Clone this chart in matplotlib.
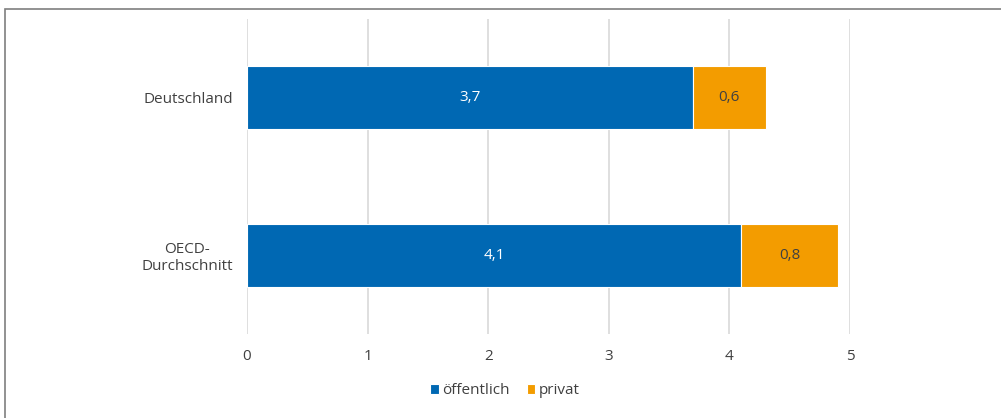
import matplotlib
matplotlib.use("Agg")
import matplotlib.pyplot as plt
from matplotlib.patches import Rectangle

categories = ["Deutschland", "OECD-\nDurchschnitt"]
oeffentlich = [3.7, 4.1]
privat = [0.6, 0.8]
series_names = ["öffentlich", "privat"]
xticks = [0, 1, 2, 3, 4, 5]

blue = "#0068B3"
orange = "#F39C00"
text_gray = "#404040"
grid_gray = "#D9D9D9"

plt.rcParams["font.family"] = ["Open Sans", "DejaVu Sans"]
fs = 11

W, H = 1001, 418
fig = plt.figure(figsize=(W / 100, H / 100), dpi=100)
fig.patch.set_facecolor("white")

# outer frame (only left and top edges visible)
fig.add_artist(Rectangle((5 / W, -0.1), 1.2, (H - 9) / H + 0.1,
                         transform=fig.transFigure, fill=False,
                         edgecolor="#7F7F7F", linewidth=1.2))

top, bottom = 19, 334
ax = fig.add_axes([247 / W, (H - bottom) / H, (850 - 247) / W, (bottom - top) / H])

y = list(range(len(categories)))
b1 = ax.barh(y, oeffentlich, height=0.4, color=blue, edgecolor="white",
             linewidth=0.8, label=series_names[0], zorder=3)
b2 = ax.barh(y, privat, left=oeffentlich, height=0.4, color=orange,
             edgecolor="white", linewidth=0.8, label=series_names[1], zorder=3)

fmt = lambda v: f"{v:.1f}".replace(".", ",")
ax.bar_label(b1, labels=[fmt(v) for v in oeffentlich], label_type="center",
             color="white", fontsize=fs)
ax.bar_label(b2, labels=[fmt(v) for v in privat], label_type="center",
             color=text_gray, fontsize=fs)

ax.set_xlim(0, 5)
ax.set_ylim(len(categories) - 0.5, -0.5)
ax.set_xticks(xticks)
ax.set_xticklabels([str(t) for t in xticks])
ax.set_yticks(y)
ax.set_yticklabels(categories, multialignment="center")

ax.grid(axis="x", color=grid_gray, linewidth=1.2, zorder=0)
for s in ax.spines.values():
    s.set_visible(False)
ax.tick_params(axis="both", length=0, colors=text_gray, labelsize=fs)
ax.tick_params(axis="y", pad=10)
ax.tick_params(axis="x", pad=11)

leg = fig.legend(handles=[b1, b2], labels=series_names, loc="center",
                 bbox_to_anchor=(505 / W, 1 - 391 / H), ncol=2, frameon=False,
                 handlelength=0.55, handleheight=0.55, handletextpad=0.25,
                 columnspacing=1.1, fontsize=fs)
for t in leg.get_texts():
    t.set_color(text_gray)

fig.savefig("out.png", dpi=100, facecolor="white")
